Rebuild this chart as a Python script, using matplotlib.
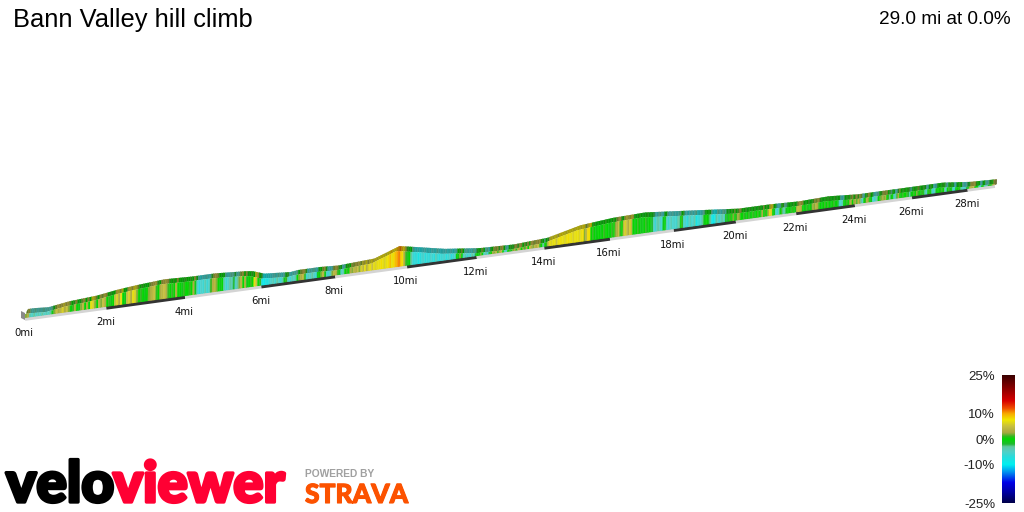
# plot.py - VeloViewer style 3D climb profile

import matplotlib
matplotlib.use('Agg')
import matplotlib.pyplot as plt
import matplotlib.patheffects as pe
from matplotlib.collections import PolyCollection
from matplotlib.colors import LinearSegmentedColormap, to_rgb
from matplotlib.patches import Polygon
import numpy as np

title = 'Bann Valley hill climb'
summary = '29.0 mi at 0.0%'

# profile height above the road (px-like units)
profile_mi = [0, 0.15, 0.5, 1, 1.7, 2.2, 2.7, 3.4, 4.1, 4.7, 5.5, 5.7, 6, 6.7, 6.9, 7.5, 8, 9, 9.7, 10, 11,
              12, 13, 14, 15, 16, 17, 18, 19, 20, 21, 22, 23, 24, 25, 26, 27, 28, 29]
profile_h = [10, 10, 9, 12, 14, 17, 19, 21, 20, 20, 18, 17, 13, 11, 12, 12, 11, 13, 22, 20, 13,
             9, 8, 10, 18, 21, 22, 19, 16, 13, 13, 12, 13, 11, 11, 11, 11, 8, 7]

# gradient (%) of each twentieth of a mile, one row per mile
grade_rows = [
    [2, 3, -4, -5, -3, -5, -4, -5, -3, -5, -4, -5, -3, -1, 2, 5, 3, 4, 6, 3],
    [5, 2, 0, 1, 3, 0, -1, 2, 4, 0, 3, 0, 7, 6, 2, 0, 4, 2, 5, 3],
    [0, 1, -1, 0, 5, 6, 3, 7, 0, -1, 5, 6, 3, 7, 6, 2, 0, 1, 0, -1],
    [0, 2, 3, 4, 5, 1, 0, 3, 4, 5, 3, 1, 0, 1, 0, 3, 0, 0, -1, 1],
    [0, 0, 1, 0, 3, -1, -5, -7, -5, -6, -4, -6, -5, 1, 3, 4, 2, 0, -1, 0],
    [-4, -6, -5, -3, -4, -2, -5, -3, 2, 4, 0, 3, -1, 0, 1, 0, 7, 5, 0, 1],
    [-8, -9, -7, -8, -6, -5, -4, -6, -3, -5, -6, -4, -1, 1, -5, -6, -4, -5, -3, 0],
    [2, 3, 4, 1, -6, -4, -5, -3, -5, -6, -1, 0, 2, 4, -1, -5, -6, -4, 2, 4],
    [3, 1, -1, -5, -4, 0, 1, 0, 3, 2, 4, 3, 5, 2, 6, 4, 7, 3, 6, 7],
    [5, 7, 6, 7, 7, 8, 7, 6, 7, 8, 9, 7, 8, 9, 10, 11, 9, 8, 3, 1],
    [-1, 0, -3, -6, -7, -6, -8, -7, -6, -5, -7, -6, -7, -5, -6, -7, -4, -6, -7, -6],
    [-6, -5, -7, -6, -5, -7, -6, -5, 0, -1, 2, 0, -5, -4, -6, -5, -6, -3, -5, -2],
    [0, -1, 2, 0, -5, -3, -6, -2, 0, 3, 2, 4, 1, 3, 4, 0, -4, -5, 0, 1],
    [-1, 2, 3, 1, 4, 3, 0, 2, 1, 3, 0, 5, 3, 2, 4, 3, 5, 1, 0, -3],
    [0, 1, 5, 7, 6, 7, 7, 5, 7, 8, 7, 7, 6, 7, 8, 7, 7, 6, 7, 7],
    [7, 6, 7, 8, 2, 4, 8, 8, 0, 1, 0, -1, 0, 0, -1, 0, 1, 0, 0, -1],
    [0, 1, 0, 2, 3, 5, 1, 0, 4, 6, 5, 3, 6, 4, 0, -1, 0, 1, 0, -1],
    [-1, 0, 1, -1, 0, -1, -2, -5, -6, -4, -3, -5, -6, -1, 0, -4, -6, -5, -4, -6],
    [-5, -6, -4, -3, 0, 1, -6, -5, -7, -5, -4, -6, -5, -3, -8, -7, -6, -5, -3, -1],
    [0, 0, -1, -3, -8, -9, -8, -3, -5, -6, -4, -3, -5, -1, -2, 0, 1, 0, 2, 0],
    [1, 3, 2, 0, 0, 1, -1, 0, 1, -1, 0, 1, -1, 0, 1, 0, -1, 3, 0, 1],
    [0, 3, 7, 6, 0, -1, -5, -6, -4, 0, 1, -4, -3, -1, 0, 0, -1, 1, 0, -1],
    [3, 5, 4, 3, 0, -1, 0, 1, -1, 0, 1, 3, 2, 4, 3, 1, 0, -1, 0, 1],
    [0, 1, 0, -1, 0, 1, -1, 0, -1, -5, -6, -4, 0, -1, 1, 0, 2, 3, 0, 2],
    [3, 1, 4, 2, -3, -5, 0, 1, 4, 2, 0, -1, -5, -6, -4, -3, 0, 1, 2, 3],
    [2, 3, 0, 1, -3, -1, 0, -5, -4, 1, 3, 0, -1, 1, 0, 0, 1, -2, -4, -1],
    [0, 1, 0, 2, 1, 0, -1, 1, -1, -4, -5, 0, 1, 0, -5, -6, -4, -1, 0, 0],
    [-1, 1, 0, -3, -5, 0, 1, -1, -1, -5, -6, -1, 0, 1, 0, -4, -5, -6, -4, -2],
    [-1, 3, 4, 3, 5, 1, 0, 0, -5, -6, -1, 0, -4, -5, -3, -1, 1, 0, 3, 4],
]

tick_miles = [0, 2, 4, 6, 8, 10, 12, 14, 16, 18, 20, 22, 24, 26, 28]
tick_labels = ['0mi', '2mi', '4mi', '6mi', '8mi', '10mi', '12mi', '14mi', '16mi', '18mi', '20mi',
               '22mi', '24mi', '26mi', '28mi']
total_miles = 29.0

legend_ticks = [25, 10, 0, -10, -25]
legend_labels = ['25%', '10%', '0%', '-10%', '-25%']

grade_cmap = LinearSegmentedColormap.from_list('grade', [
    (0.00, '#00004a'), (0.08, '#0000a0'), (0.16, '#0000e8'), (0.24, '#0090f0'),
    (0.30, '#00f0f0'), (0.36, '#28dcdc'), (0.40, '#50d0c8'), (0.44, '#60c8a0'), (0.46, '#20b830'),
    (0.50, '#00d800'), (0.52, '#30b820'), (0.55, '#a8a840'), (0.60, '#c8c040'), (0.65, '#f0e800'),
    (0.70, '#f8a800'), (0.74, '#f05000'), (0.80, '#d80000'), (0.90, '#880000'),
    (1.00, '#3a0000')])


# perspective road: miles to screen pixels
def road_x(d):
    return 25 + 41.3 * np.asarray(d, dtype=float) / (1 + 0.0081 * np.asarray(d, dtype=float))


def road_y(d):
    return 319 - 0.137 * (road_x(d) - 25)


def grade_color(g):
    return grade_cmap((g + 25) / 50)


def darker(c, f=0.78):
    return tuple(v * f for v in to_rgb(c))


grades = np.array(grade_rows, dtype=float).ravel()
edges = np.arange(len(grades) + 1) / 20
mi = np.array(profile_mi)
h = np.array(profile_h, dtype=float)

fig = plt.figure(figsize=(10.24, 5.12), dpi=100)
ax = fig.add_axes([0, 0, 1, 1])
ax.set_xlim(0, 1024)
ax.set_ylim(512, 0)
ax.axis('off')

# road strip, alternating grey and dark every 2 miles
for i, start in enumerate(tick_miles):
    end = min(start + 2, total_miles)
    ax.plot(road_x([start, end]), road_y([start, end]), color='#333333' if i % 2 else '#d4d4d4',
            lw=2.6, solid_capstyle='butt', zorder=2)


# stripes reach well above the profile and get clipped to its shape
def stripes(dx, dy, factor):
    left, right = edges[:-1], edges[1:]
    verts = []
    for a, b in zip(left, right):
        verts.append([(road_x(a) + dx, road_y(a) - 1 + dy), (road_x(b) + dx, road_y(b) - 1 + dy),
                      (road_x(b) + dx + 0.4, road_y(b) - 40 + dy), (road_x(a) + dx + 0.4, road_y(a) - 40 + dy)])
    colors = [darker(grade_color(g), factor) for g in grades]
    return PolyCollection(verts, facecolors=colors, edgecolors=colors, linewidths=0.3)


top_depth = 5
top_shift = 3

px, py = road_x(mi), road_y(mi) - h

# top face of the ribbon
top_face = Polygon(np.r_[np.c_[px, py + top_depth], np.c_[px + top_shift, py][::-1]], closed=True,
                   transform=ax.transData, fc='none', ec='none')
ax.add_patch(top_face)
top_stripes = stripes(1.5, 0, 0.72)
ax.add_collection(top_stripes)
top_stripes.set_zorder(3)
top_stripes.set_clip_path(top_face)

# front wall
wall = Polygon(np.r_[np.c_[px, py + top_depth],
                     np.c_[road_x(mi), road_y(mi) - 1][::-1]], closed=True,
               transform=ax.transData, fc='none', ec='none')
ax.add_patch(wall)
wall_stripes = stripes(0, 0, 1.0)
ax.add_collection(wall_stripes)
wall_stripes.set_zorder(4)
wall_stripes.set_clip_path(wall)

# end caps of the ribbon
ax.add_patch(Polygon([(road_x(0) - 4, road_y(0) - 8), (road_x(0), road_y(0) - 6),
                      (road_x(0), road_y(0) + 1), (road_x(0) - 4, road_y(0) - 1)],
                     closed=True, fc='#8a8a8a', ec='none', zorder=5))
ax.add_patch(Polygon([(road_x(total_miles), road_y(total_miles) - 1),
                      (road_x(total_miles) + 2, road_y(total_miles) - 2),
                      (road_x(total_miles) + 2, road_y(total_miles) - 7),
                      (road_x(total_miles), road_y(total_miles) - 6)],
                     closed=True, fc='#6f6f3a', ec='none', zorder=5))

# mile labels
for d, lab in zip(tick_miles, tick_labels):
    ax.text(road_x(d) - 1, road_y(d) + 14.5, lab, ha='center', va='center', fontsize=7.3,
            family='DejaVu Sans', color='#111111', zorder=6)

ax.text(13, 20, title, ha='left', va='center', fontsize=18.4, family='Liberation Sans', color='black')
ax.text(1011, 19, summary, ha='right', va='center', fontsize=13.7, family='Liberation Sans', color='black')

# logo wordmark
ax.text(6, 502, 'velo', ha='left', va='baseline', fontsize=41, family='Lato', weight='black',
        color='black', path_effects=[pe.withStroke(linewidth=2.4, foreground='black')])
ax.text(113, 502, 'viewer', ha='left', va='baseline', fontsize=40.5, family='Lato', weight='black',
        color='#ff0033', path_effects=[pe.withStroke(linewidth=2.4, foreground='#ff0033')])
ax.text(305, 474, 'POWERED BY', ha='left', va='center', fontsize=7.4, family='Liberation Sans',
        weight='bold', color='#a0a0a0')
ax.text(305, 503, 'STRAVA', ha='left', va='baseline', fontsize=19, family='Lato', weight='black',
        color='#fc5200', path_effects=[pe.withStroke(linewidth=0.8, foreground='#fc5200')])

# gradient legend
cax = fig.add_axes([1002 / 1024, 1 - 503 / 512, 13 / 1024, 128 / 512])
cax.imshow(np.linspace(25, -25, 256).reshape(-1, 1), aspect='auto', cmap=grade_cmap, vmin=-25, vmax=25,
           extent=[0, 1, -25, 25])
cax.set_xticks([])
cax.set_yticks(legend_ticks)
cax.set_yticklabels(legend_labels, fontsize=9.5, family='Liberation Sans', color='#222222')
cax.tick_params(axis='y', length=0, pad=5)
for spine in cax.spines.values():
    spine.set_visible(False)

fig.savefig('out.png', dpi=100, facecolor='white')
